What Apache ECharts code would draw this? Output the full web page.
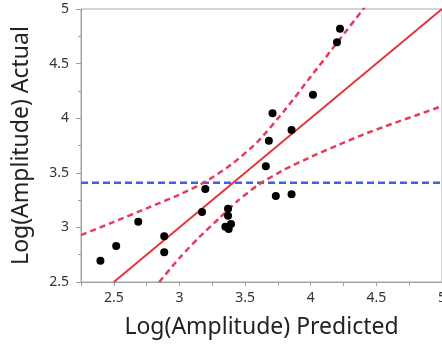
<!DOCTYPE html>
<html>
<head>
<meta charset="utf-8">
<style>html,body{margin:0;padding:0;background:#fff}#c{width:442px;height:347px}</style>
<script src="https://cdn.jsdelivr.net/npm/echarts@6/dist/echarts.min.js"></script>
</head>
<body>
<div id="c"></div>
<script>
var predicted = [2.398, 2.518, 2.686, 2.884, 2.884, 3.172, 3.197, 3.370, 3.370, 3.350, 3.375, 3.393, 3.658, 3.681, 3.709, 3.734, 3.854, 3.854, 4.017, 4.200, 4.223];
var actual    = [2.695, 2.830, 3.052, 2.918, 2.772, 3.141, 3.352, 3.171, 3.107, 3.007, 2.985, 3.031, 3.559, 3.794, 4.045, 3.288, 3.892, 3.303, 4.215, 4.695, 4.820];
var fitX = [2.5, 5];
var fitY = [2.5, 5];
var upperX = [2.25, 2.5, 2.75, 3.0, 3.2, 3.4, 3.6, 3.8, 4.0, 4.2, 4.42];
var upperY = [2.93, 3.05, 3.175, 3.30, 3.42, 3.58, 3.79, 4.07, 4.38, 4.69, 5.03];
var lowerX = [2.846, 3.0, 3.15, 3.3, 3.45, 3.6, 3.8, 4.0, 4.2, 4.4, 4.6, 4.8, 5.0];
var lowerY = [2.5, 2.72, 2.91, 3.08, 3.25, 3.39, 3.53, 3.645, 3.75, 3.85, 3.94, 4.025, 4.11];
var meanY = 3.41;
var xTicks = [2.5, 3, 3.5, 4, 4.5, 5];
var yTicks = [2.5, 3, 3.5, 4, 4.5, 5];

function zip(a, b) { return a.map(function (v, i) { return [v, b[i]]; }); }

var font = 'Noto Sans';
var chart = echarts.init(document.getElementById('c'), null, {renderer: 'canvas'});
chart.setOption({
  animation: false,
  grid: {left: 81, top: 9, right: 0, bottom: 65, show: true, borderColor: '#a8a8a8', borderWidth: 1,
    outerBoundsMode: 'none', containLabel: false},
  xAxis: {
    type: 'value', min: 2.25, max: 5, interval: 0.25,
    name: 'Log(Amplitude) Predicted', nameLocation: 'middle', nameGap: 34,
    nameTextStyle: {fontFamily: font, fontSize: 23, color: '#222'},
    axisLine: {show: true, lineStyle: {color: '#a0a0a0', width: 1}},
    axisTick: {show: true, length: 4, lineStyle: {color: '#a0a0a0'}},
    axisLabel: {
      margin: 9, fontFamily: font, fontSize: 14, color: '#333', hideOverlap: false,
      formatter: function (v) {
        for (var i = 0; i < xTicks.length; i++) if (Math.abs(xTicks[i] - v) < 1e-6) return String(xTicks[i]);
        return '';
      }
    },
    splitLine: {show: false}
  },
  yAxis: {
    type: 'value', min: 2.5, max: 5, interval: 0.5,
    name: 'Log(Amplitude) Actual', nameLocation: 'middle', nameGap: 48,
    nameTextStyle: {fontFamily: font, fontSize: 23, color: '#222'},
    axisLine: {show: true, lineStyle: {color: '#a0a0a0', width: 1}},
    axisTick: {show: true, length: 5, lineStyle: {color: '#a0a0a0'}},
    minorTick: {show: true, splitNumber: 2, length: 3, lineStyle: {color: '#a0a0a0'}},
    axisLabel: {
      margin: 12, fontFamily: font, fontSize: 14, color: '#333',
      formatter: function (v) {
        for (var i = 0; i < yTicks.length; i++) if (Math.abs(yTicks[i] - v) < 1e-6) return String(yTicks[i]);
        return '';
      }
    },
    splitLine: {show: false}
  },
  series: [
    {type: 'line', data: [[2.25, meanY], [5, meanY]], symbol: 'none', silent: true,
      lineStyle: {color: '#3a62e8', width: 2.5, type: [7, 4]}, z: 2},
    {type: 'line', data: zip(upperX, upperY), smooth: 0.2, symbol: 'none', clip: true,
      lineStyle: {color: '#e83a5a', width: 2.5, type: [6, 4]}, z: 3},
    {type: 'line', data: zip(lowerX, lowerY), smooth: 0.2, symbol: 'none', clip: true,
      lineStyle: {color: '#e83a5a', width: 2.5, type: [6, 4]}, z: 3},
    {type: 'line', data: zip(fitX, fitY), symbol: 'none', clip: true,
      lineStyle: {color: '#e8323c', width: 2}, z: 4},
    {type: 'scatter', data: zip(predicted, actual), symbol: 'circle', symbolSize: 8,
      itemStyle: {color: '#000', opacity: 1}, z: 5}
  ]
});
</script>
</body>
</html>
